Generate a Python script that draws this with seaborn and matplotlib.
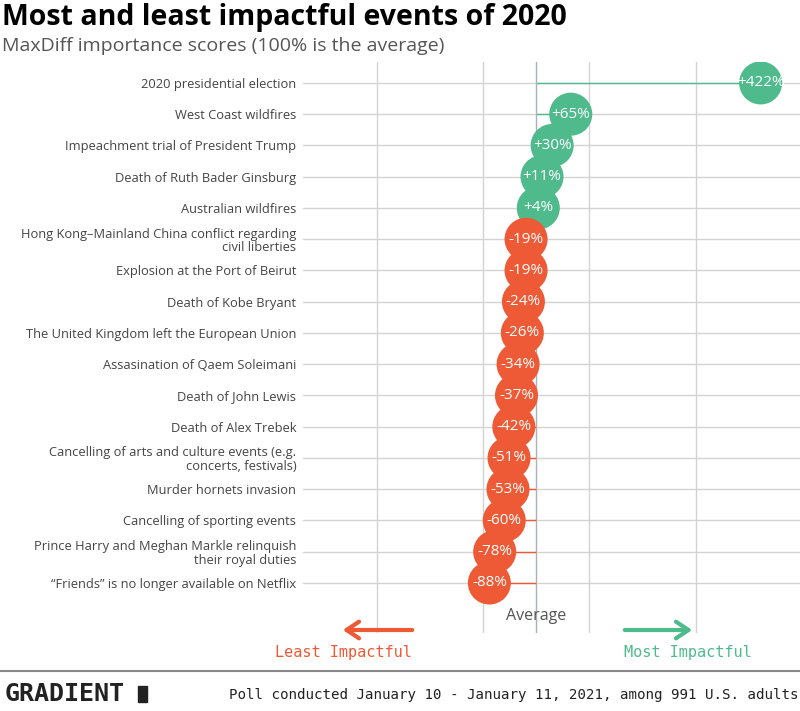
import seaborn as sns
import matplotlib.pyplot as plt
import matplotlib.patches as mpatches
import pandas as pd
import numpy as np

GREEN = "#4fbb8d"
ORANGE = "#ee5a35"
GRID = "#d3d3d3"

events = [
    "2020 presidential election",
    "West Coast wildfires",
    "Impeachment trial of President Trump",
    "Death of Ruth Bader Ginsburg",
    "Australian wildfires",
    "Hong Kong\u2013Mainland China conflict regarding\ncivil liberties",
    "Explosion at the Port of Beirut",
    "Death of Kobe Bryant",
    "The United Kingdom left the European Union",
    "Assasination of Qaem Soleimani",
    "Death of John Lewis",
    "Death of Alex Trebek",
    "Cancelling of arts and culture events (e.g.\nconcerts, festivals)",
    "Murder hornets invasion",
    "Cancelling of sporting events",
    "Prince Harry and Meghan Markle relinquish\ntheir royal duties",
    "\u201cFriends\u201d is no longer available on Netflix",
]
scores = [422, 65, 30, 11, 4, -19, -19, -24, -26, -34, -37, -42, -51, -53, -60, -78, -88]
grid_x = [-300, -100, 100, 300]

sns.set_theme(style="white")
plt.rcParams['font.family'] = ['Open Sans', 'DejaVu Sans']

df = pd.DataFrame({'event': events, 'score': scores})
df['pos'] = np.arange(len(df))
df['side'] = np.where(df['score'] > 0, 'up', 'down')

fig = plt.figure(figsize=(8, 7.11), dpi=100)
ax = fig.add_axes([0.379, 0.1097, 0.621, 0.8031])

# gridlines
for v in grid_x:
    ax.axvline(v, color=GRID, lw=1, zorder=0)
ax.axvline(0, color="#aab0b8", lw=1, zorder=0)
for p in df['pos']:
    ax.axhline(p, color=GRID, lw=1, zorder=0)

# stems
cols = [GREEN if s > 0 else ORANGE for s in df['score']]
ax.hlines(df['pos'], 0, df['score'], colors=cols, lw=1, zorder=1)

sns.scatterplot(data=df, x='score', y='pos', hue='side', palette={'up': GREEN, 'down': ORANGE},
                s=960, linewidth=0, alpha=1, legend=False, ax=ax, zorder=2)

for _, r in df.iterrows():
    lab = ('+%d%%' % r['score']) if r['score'] > 0 else ('-%d%%' % abs(r['score']))
    ax.text(r['score'], r['pos'], lab, ha='center', va='center', color='white', fontsize=11, zorder=3)

ax.set_xlim(-438, 496)
ax.set_ylim(17.6, -0.67)
ax.set_yticks(df['pos'])
ax.set_yticklabels(df['event'], fontsize=9.3, color="#444444", ha='right', linespacing=1.05)
ax.tick_params(axis='y', length=0, pad=5)
ax.set_xticks([])
ax.set_xlabel('')
ax.set_ylabel('')
for sp in ax.spines.values():
    sp.set_visible(False)

ax.text(0, 17.05, 'Average', ha='center', va='center', fontsize=11.5, color="#555555")

# arrows
fig.patches.append(mpatches.FancyArrowPatch((415 / 800, 1 - 630 / 711), (340 / 800, 1 - 630 / 711),
                                            transform=fig.transFigure, arrowstyle='->,head_length=6,head_width=4',
                                            color=ORANGE, lw=3, mutation_scale=1.5))
fig.patches.append(mpatches.FancyArrowPatch((622 / 800, 1 - 630 / 711), (695 / 800, 1 - 630 / 711),
                                            transform=fig.transFigure, arrowstyle='->,head_length=6,head_width=4',
                                            color=GREEN, lw=3, mutation_scale=1.5))
fig.text(343 / 800, 1 - 653 / 711, 'Least Impactful', ha='center', va='center', color=ORANGE,
         fontsize=11, family='DejaVu Sans Mono')
fig.text(688 / 800, 1 - 653 / 711, 'Most Impactful', ha='center', va='center', color=GREEN,
         fontsize=11, family='DejaVu Sans Mono')

# titles
fig.text(0.003, 1 - 17 / 711, 'Most and least impactful events of 2020', ha='left', va='center',
         fontsize=20.5, weight='bold', color='black')
fig.text(0.003, 1 - 46 / 711, 'MaxDiff importance scores (100% is the average)', ha='left', va='center',
         fontsize=14, color='#555555')

# footer
fig.add_artist(plt.Line2D([0, 1], [1 - 671 / 711, 1 - 671 / 711], transform=fig.transFigure,
                          color='#888888', lw=1.5))
fig.text(5 / 800, 1 - 694 / 711, 'GRADIENT', ha='left', va='center', fontsize=18, weight='bold',
         family='DejaVu Sans Mono', color='#222222')
fig.patches.append(mpatches.Rectangle((138 / 800, 1 - 702 / 711), 9 / 800, 16 / 711,
                                      transform=fig.transFigure, color='#222222'))
fig.text(0.998, 1 - 695 / 711, 'Poll conducted January 10 - January 11, 2021, among 991 U.S. adults',
         ha='right', va='center', fontsize=10.2, family='DejaVu Sans Mono', color='#222222')

fig.savefig('out.png', dpi=100)
